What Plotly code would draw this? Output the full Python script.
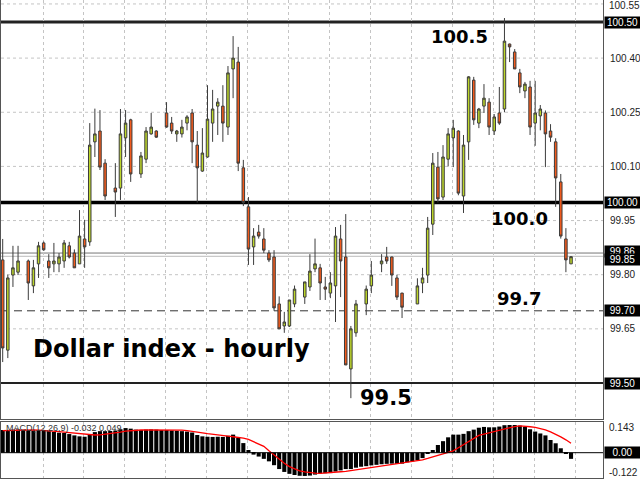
import plotly.graph_objects as go

N = None
opens = [99.841, 99.591, 99.799, 99.807, N, 99.838, 99.769, 99.830, 99.888, 99.838,
         99.830, 99.830, 99.838, 99.880, 99.860, 99.830, 99.899, 99.891, 100.168, 100.198,
         100.109, N, 100.040, 100.040, 100.179, 100.229, N, 100.079, 100.120, 100.190,
         100.198, N, 100.248, 100.220, 100.190, 100.190, 100.220, 100.248, 100.159, 100.087,
         100.126, 100.220, 100.267, 100.267, 100.209, 100.370, 100.389, 100.096, 99.988, 99.877,
         99.918, 99.899, 99.860, 99.849, 99.719, 99.658, 99.658, 99.719, N, 99.738,
         99.766, 99.816, 99.819, 99.766, 99.749, 99.769, 99.899, 99.849, 99.539, 99.639,
         N, 99.719, 99.769, N, 99.830, 99.849, 99.849, 99.791, 99.749, N,
         N, 99.719, 99.777, 99.799, 99.940, 100.098, 100.015, 100.120, 100.179, 100.198,
         100.018, 100.168, 100.339, 100.220, 100.267, 100.278, 100.198, 100.248, 100.259, 100.439,
         100.417, 100.359, 100.309, 100.320, 100.220, 100.240, 100.248, 100.198, 100.168, 100.057,
         99.899, 99.830]
highs = [99.899, 99.800, 99.880, 99.880, N, 99.842, 99.841, 99.891, 99.892, 99.857,
         99.888, 99.860, 99.896, 99.891, 99.870, 99.979, 99.952, 100.220, 100.260, 100.256,
         100.120, N, 100.109, 100.259, 100.256, 100.232, N, 100.140, 100.209, 100.248,
         100.200, N, 100.278, 100.237, 100.201, 100.229, 100.242, 100.259, 100.198, 100.206,
         100.325, 100.312, 100.289, 100.325, 100.378, 100.461, 100.431, 100.118, 100.015, 99.929,
         99.938, 99.929, 99.868, 99.868, 99.740, 99.697, 99.730, 99.770, N, 99.780,
         99.857, 99.900, 99.830, 99.794, 99.807, 99.932, 99.938, 99.968, 99.658, 99.730,
         N, 99.770, 99.838, N, 99.857, 99.877, 99.850, 99.800, 99.750, N,
         N, 99.790, 99.819, 99.960, 100.137, 100.140, 100.159, 100.206, 100.229, 100.200,
         100.187, 100.350, 100.348, 100.262, 100.328, 100.289, 100.245, 100.320, 100.511, 100.440,
         100.425, 100.370, 100.334, 100.337, 100.337, 100.270, 100.255, 100.217, 100.178, 100.079,
         99.929, 99.850]
lows = [99.558, 99.569, 99.766, 99.799, N, 99.730, 99.749, 99.791, 99.866, 99.791,
        99.807, 99.807, 99.819, 99.845, 99.819, 99.830, 99.819, 99.880, 100.126, 100.090,
        100.007, N, 99.960, 100.007, 100.126, 100.057, N, 100.068, 100.109, 100.188,
        100.179, N, 100.207, 100.190, 100.168, 100.180, 100.200, 100.109, 100.000, 100.085,
        100.124, 100.168, 100.187, 100.168, 100.187, 100.289, 100.087, 99.990, 99.827, 99.827,
        99.900, 99.860, 99.835, 99.700, 99.650, 99.639, 99.655, 99.710, N, 99.719,
        99.755, 99.807, 99.730, 99.730, 99.735, 99.669, 99.738, 99.550, 99.458, 99.628,
        N, 99.688, 99.749, N, 99.807, 99.830, 99.769, 99.730, 99.680, N,
        N, 99.719, 99.749, 99.777, 99.910, 100.000, 100.007, 100.100, 100.098, 100.020,
        99.971, 100.118, 100.215, 100.206, 100.248, 100.187, 100.187, 100.215, 100.250, 100.389,
        100.370, 100.303, 100.289, 100.187, 100.157, 100.200, 100.098, 100.168, 99.988, 99.900,
        99.807, 99.830]
closes = [99.597, 99.791, 99.819, 99.838, N, 99.777, 99.819, 99.880, 99.869, 99.819,
          99.838, 99.849, 99.888, 99.849, 99.819, 99.907, 99.877, 100.159, 100.190, 100.098,
          100.018, N, 100.029, 100.190, 100.220, 100.079, N, 100.129, 100.198, 100.209,
          100.181, N, 100.209, 100.198, 100.198, 100.209, 100.237, 100.168, 100.096, 100.137,
          100.231, 100.259, 100.278, 100.220, 100.359, 100.400, 100.109, 100.000, 99.871, 99.907,
          99.907, 99.868, 99.841, 99.708, 99.650, 99.669, 99.730, 99.760, N, 99.780,
          99.810, 99.830, 99.777, 99.760, 99.777, 99.907, 99.838, 99.550, 99.650, 99.719,
          N, 99.760, 99.799, N, 99.838, 99.838, 99.799, 99.738, 99.710, N,
          N, 99.769, 99.791, 99.929, 100.109, 100.010, 100.126, 100.190, 100.206, 100.026,
          100.159, 100.348, 100.229, 100.259, 100.289, 100.209, 100.237, 100.220, 100.447, 100.431,
          100.370, 100.320, 100.328, 100.209, 100.248, 100.259, 100.190, 100.181, 100.068, 99.907,
          99.841, 99.850]

macd = [0.118, 0.118, 0.120, 0.121, 0.120, 0.118, 0.116, 0.117, 0.116, 0.112,
        0.108, 0.104, 0.103, 0.097, 0.090, 0.085, 0.083, 0.095, 0.107, 0.112,
        0.112, 0.113, 0.115, 0.122, 0.128, 0.125, 0.120, 0.118, 0.120, 0.121,
        0.120, 0.118, 0.118, 0.116, 0.114, 0.112, 0.110, 0.105, 0.092, 0.085,
        0.083, 0.082, 0.083, 0.082, 0.088, 0.094, 0.078, 0.050, 0.014, -0.010,
        -0.020, -0.032, -0.045, -0.065, -0.085, -0.100, -0.110, -0.116, -0.120, -0.121,
        -0.119, -0.114, -0.109, -0.107, -0.106, -0.098, -0.092, -0.085, -0.085, -0.078,
        -0.073, -0.070, -0.066, -0.063, -0.060, -0.058, -0.057, -0.058, -0.057, -0.050,
        -0.045, -0.040, -0.028, -0.004, 0.014, 0.040, 0.060, 0.080, 0.094, 0.094,
        0.098, 0.112, 0.120, 0.130, 0.134, 0.132, 0.132, 0.136, 0.143, 0.144,
        0.144, 0.141, 0.134, 0.122, 0.110, 0.100, 0.090, 0.066, 0.049, 0.023,
        -0.005, -0.032]
signal = [0.115, 0.116, 0.117, 0.118, 0.118, 0.118, 0.118, 0.117, 0.116, 0.114,
          0.112, 0.110, 0.107, 0.104, 0.101, 0.098, 0.095, 0.093, 0.092, 0.093,
          0.096, 0.099, 0.103, 0.107, 0.112, 0.115, 0.117, 0.118, 0.119, 0.119,
          0.120, 0.120, 0.120, 0.120, 0.119, 0.117, 0.115, 0.112, 0.107, 0.103,
          0.099, 0.095, 0.092, 0.088, 0.086, 0.083, 0.080, 0.076, 0.069, 0.058,
          0.046, 0.033, 0.010, -0.012, -0.035, -0.055, -0.072, -0.085, -0.095, -0.100,
          -0.104, -0.106, -0.107, -0.106, -0.104, -0.101, -0.099, -0.097, -0.093, -0.089,
          -0.086, -0.082, -0.078, -0.073, -0.069, -0.065, -0.060, -0.056, -0.052, -0.048,
          -0.045, -0.042, -0.037, -0.030, -0.022, -0.012, -0.003, 0.002, 0.010, 0.026,
          0.042, 0.058, 0.075, 0.090, 0.097, 0.103, 0.110, 0.117, 0.124, 0.131,
          0.136, 0.139, 0.138, 0.135, 0.132, 0.127, 0.119, 0.108, 0.096, 0.082,
          0.067, 0.049]

bars = list(range(len(closes)))

top_tick = "100.55"
price_ticks = [100.40, 100.25, 100.10, 99.95, 99.80, 99.65]
price_tick_text = ["100.40", "100.25", "100.10", "99.95", "99.80", "99.65"]
grid_levels = [100.55, 100.40, 100.25, 100.10, 99.95, 99.80, 99.65]
level_labels = [100.50, 100.00, 99.70, 99.50]
level_text = ["100.50", "100.00", "99.70", "99.50"]
bid_price = 99.860
ask_price = 99.851
macd_top_label = "0.143"
macd_bottom_label = "-0.122"
macd_caption = "MACD(12,26,9) -0.032 0.049"

# pixel helpers for annotation placement (layout, not data)
def py2price(py):
    return 100.5 - (py - 22) / 361.0

def px2bar(px):
    return (px - 2.7) / 5.12

grid_x = [px2bar(43) + 8 * k for k in range(14)]

fig = go.Figure()
fig.add_trace(go.Candlestick(
    x=bars, open=opens, high=highs, low=lows, close=closes,
    increasing=dict(line=dict(color="#3c3c3c", width=1), fillcolor="#bdd62a"),
    decreasing=dict(line=dict(color="#3c3c3c", width=1), fillcolor="#f25a1c"),
    whiskerwidth=0, xaxis="x", yaxis="y", showlegend=False, hoverinfo="skip"))
fig.add_trace(go.Bar(x=bars, y=macd, width=0.8, marker=dict(color="black", line=dict(width=0)),
                     xaxis="x2", yaxis="y2", showlegend=False, hoverinfo="skip"))
fig.add_trace(go.Scatter(x=bars, y=signal, mode="lines", line=dict(color="#ff0000", width=1.3),
                         xaxis="x2", yaxis="y2", showlegend=False, hoverinfo="skip"))

H = 480
main_dom = [1 - 419 / H, 1]
macd_dom = [1 - 478 / H, 1 - 422 / H]
yr_main = [py2price(419), py2price(0)]
yr_macd = [-(478 - 452.7) * 0.0052, (452.7 - 422) * 0.0052]
xr = [px2bar(1), px2bar(603)]

axis_font = dict(family="Liberation Sans, Arial", size=10, color="#222")
fig.update_layout(
    width=640, height=480, margin=dict(l=1, r=37, t=0, b=0, autoexpand=False),
    paper_bgcolor="white", plot_bgcolor="white", showlegend=False,
    xaxis=dict(domain=[0, 1], range=xr, anchor="y", showticklabels=False, ticks="", automargin=False,
               tickvals=grid_x, showgrid=True, gridcolor="#c4c4c4", griddash="dot", gridwidth=1,
               zeroline=False, showline=True, linecolor="#555", linewidth=1, mirror=True,
               rangeslider=dict(visible=False)),
    yaxis=dict(domain=main_dom, range=yr_main, side="right", anchor="x", automargin=False,
               tickvals=price_ticks, ticktext=price_tick_text, tickfont=axis_font, ticks="",
               ticklabelstandoff=4, showgrid=False, zeroline=False,
               showline=True, linecolor="#555", linewidth=1, mirror=True),
    xaxis2=dict(domain=[0, 1], range=xr, anchor="y2", matches="x", showticklabels=False, ticks="",
                automargin=False,
                tickvals=grid_x, showgrid=True, gridcolor="#c4c4c4", griddash="dot",
                zeroline=False, showline=True, linecolor="#555", linewidth=1, mirror=True),
    yaxis2=dict(domain=macd_dom, range=yr_macd, side="right", anchor="x2", showticklabels=False,
                ticks="", showgrid=False, zeroline=False, automargin=False,
                showline=True, linecolor="#555", linewidth=1, mirror=True),
    bargap=0.2,
)

shapes = []
def hline(y, width, color, dash="solid", yref="y"):
    shapes.append(dict(type="line", xref="x domain", x0=0, x1=1, yref=yref, y0=y, y1=y,
                       line=dict(color=color, width=width, dash=dash), layer="below"))
for g in grid_levels:
    hline(g, 1, "#c4c4c4", dash="dot")
hline(bid_price, 1, "#777")
hline(ask_price, 1, "#bbb")
hline(level_labels[0], 3, "#222")
hline(level_labels[1], 3.5, "#000")
hline(level_labels[2], 1, "#333", dash="8px,5px")
hline(level_labels[3], 2, "#222")
shapes.append(dict(type="line", xref="x2 domain", x0=0, x1=1, yref="y2", y0=0, y1=0,
                   line=dict(color="#000", width=1)))
fig.update_layout(shapes=shapes)

ann = []
def box_label(text, y, yref="y"):
    ann.append(dict(text=text, xref="paper", x=1, xanchor="left", xshift=1, yref=yref, y=y,
                    yanchor="middle", showarrow=False, bgcolor="#000", borderpad=0, width=35,
                    align="center", font=dict(family="Liberation Sans, Arial", size=10, color="white")))
for v, t in zip(level_labels, level_text):
    box_label(t, v)
box_label("99.86", bid_price + 0.004)
box_label("99.85", ask_price - 0.008)
box_label("0.00", 0, yref="y2")
ann.append(dict(text=top_tick, xref="paper", x=1, xanchor="left", xshift=4, yref="paper", y=1,
                yanchor="top", yshift=2, showarrow=False, font=axis_font))
for t, py in [(macd_top_label, 427), (macd_bottom_label, 472)]:
    ann.append(dict(text=t, xref="paper", x=1, xanchor="left", xshift=4, yref="paper",
                    y=1 - py / H, yanchor="middle", showarrow=False, font=axis_font))
ann.append(dict(text=macd_caption, xref="paper", x=0, xanchor="left", xshift=3, yref="paper",
                y=1 - 428 / H, yanchor="middle", showarrow=False,
                font=dict(family="Liberation Sans, Arial", size=9, color="#333")))

big = dict(family="DejaVu Sans", color="black", weight="bold")
for text, px, py, size, anchor in [
        ("100.5", 459, 36, 18, "center"),
        ("100.0", 519, 218, 18, "center"),
        ("99.7", 519, 298, 18, "center"),
        ("99.5", 386, 398, 21, "center"),
        ("Dollar index - hourly", 31, 349, 24, "left")]:
    ann.append(dict(text=text, xref="x", x=px2bar(px), yref="y", y=py2price(py), xanchor=anchor,
                    yanchor="middle", showarrow=False, font=dict(size=size, **big)))
fig.update_layout(annotations=ann)

fig.write_html("out.html", config={"displayModeBar": False},
               post_script="document.body.style.margin='0';document.body.style.overflow='hidden';")
